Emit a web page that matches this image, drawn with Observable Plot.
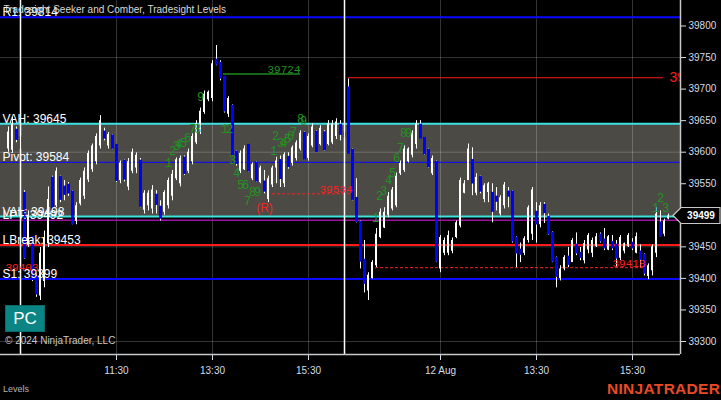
<!DOCTYPE html>
<html>
<head>
<meta charset="utf-8">
<script src="https://cdn.jsdelivr.net/npm/d3@7"></script>
<script src="https://cdn.jsdelivr.net/npm/@observablehq/plot@0.6"></script>
<style>
html, body { margin:0; padding:0; background:#000; overflow:hidden; }
#wrap { position:relative; width:721px; height:400px; background:#000; font-family:"Liberation Sans", Arial, sans-serif; }
#wrap svg { display:block; }
.ov { position:absolute; white-space:nowrap; }
#pc { left:5px; top:305px; width:40px; height:27px; background:#0b8484; color:#fff; font-size:17px; line-height:26px; text-align:center; box-sizing:border-box; border:1px solid #086a6a; }
#copy { left:5px; top:335px; font-size:10px; color:#c8c8c8; }
#lv { left:3px; top:384px; font-size:9px; color:#b5b5b5; }
#logo { left:607px; top:380px; font-size:15.5px; font-weight:bold; color:#e84a25; letter-spacing:0.3px; }
</style>
</head>
<body>
<div id="wrap"></div>
<script>
// ---------- data ----------
const firstSlot = -3; // bar slot of first bar (5-minute slots, 0 = 9:30 of day 1)
const opens = [
39605,39603,39634,39623,39534,39452,39464,39401,39372,39395,
39455,39558,39515,39559,39544,39547,39536,39490,39518,39530,
39556,39572,39585,39610,39631,39610,39625,39610,39555,39585,
39545,39570,39575,39585,39508,39515,39510,39531,39512,39505,
39515,39530,39558,39550,39590,39570,39585,39615,39633,39663,
39683,39685,39745,39740,39718,39660,39672,39599,39570,39572,
39610,39558,39582,39552,39552,39525,39548,39575,39586,39550,
39591,39582,39590,39605,39629,39590,39610,39631,39612,39630,
39612,39615,39625,39642,39630,39701,39602,39526,39488,39428,
39380,39400,39420,39465,39480,39500,39510,39515,39566,39571,
39585,39595,39612,39642,39621,39602,39566,39583,39415,39440,
39440,39443,39465,39483,39535,39555,39586,39535,39559,39525,
39536,39534,39528,39502,39515,39536,39536,39463,39444,39440,
39460,39470,39504,39485,39515,39496,39471,39431,39400,39415,
39433,39425,39452,39439,39428,39445,39440,39450,39468,39460,
39445,39456,39452,39432,39443,39450,39455,39440,39441,39436,
39403,39412,39440,39487,39470,39494];
const highs = [
39640,39655,39640,39626,39539,39507,39466,39405,39449,39475,
39545,39562,39575,39562,39555,39552,39539,39520,39559,39575,
39602,39613,39629,39658,39638,39631,39628,39612,39586,39588,
39590,39605,39599,39590,39539,39539,39547,39539,39523,39539,
39559,39571,39591,39594,39594,39605,39629,39650,39670,39697,
39697,39745,39769,39745,39720,39688,39675,39602,39602,39610,
39612,39583,39585,39578,39571,39562,39578,39592,39594,39599,
39599,39610,39618,39634,39632,39629,39645,39634,39642,39634,
39650,39650,39653,39650,39635,39716,39605,39558,39491,39460,
39409,39428,39479,39510,39512,39536,39544,39567,39586,39610,
39607,39634,39650,39650,39623,39605,39594,39586,39468,39464,
39475,39464,39491,39559,39555,39613,39607,39566,39562,39550,
39552,39550,39544,39531,39552,39544,39539,39466,39456,39466,
39515,39544,39520,39520,39520,39502,39474,39434,39420,39436,
39449,39463,39472,39449,39460,39471,39464,39471,39472,39479,
39468,39468,39460,39468,39456,39471,39463,39472,39453,39439,
39423,39453,39512,39507,39494,39502];
const lows = [
39600,39598,39615,39603,39430,39449,39395,39370,39365,39385,
39449,39503,39512,39520,39523,39530,39485,39485,39515,39525,
39552,39568,39580,39605,39618,39605,39604,39552,39550,39553,
39539,39566,39566,39512,39502,39507,39502,39502,39491,39500,
39510,39523,39555,39545,39563,39566,39580,39612,39628,39660,
39680,39680,39737,39713,39662,39655,39593,39578,39566,39571,
39568,39555,39552,39550,39534,39520,39544,39550,39544,39544,
39573,39578,39586,39602,39588,39586,39607,39600,39610,39602,
39610,39612,39620,39618,39620,39597,39523,39488,39415,39377,
39365,39399,39417,39463,39479,39496,39507,39512,39563,39568,
39583,39591,39605,39621,39595,39575,39563,39425,39409,39436,
39436,39439,39463,39480,39534,39555,39531,39531,39534,39520,
39520,39488,39507,39499,39510,39512,39456,39417,39425,39436,
39456,39460,39456,39480,39487,39468,39425,39385,39396,39412,
39417,39425,39436,39428,39423,39439,39433,39449,39456,39444,
39444,39444,39417,39428,39439,39449,39444,39439,39417,39404,
39398,39404,39433,39466,39466,39493];
const closes = [
39632,39645,39621,39607,39433,39500,39399,39376,39440,39465,
39525,39507,39570,39526,39534,39536,39487,39515,39555,39570,
39598,39610,39625,39650,39623,39628,39607,39556,39583,39558,
39585,39600,39595,39515,39535,39535,39540,39518,39496,39536,
39555,39565,39588,39590,39567,39600,39625,39645,39665,39692,
39695,39740,39740,39718,39666,39685,39596,39583,39598,39605,
39571,39580,39555,39575,39539,39558,39575,39586,39559,39596,
39578,39607,39615,39630,39590,39625,39640,39602,39638,39605,
39645,39645,39648,39629,39625,39599,39526,39491,39428,39393,
39405,39425,39470,39505,39505,39530,39540,39562,39582,39605,
39605,39630,39645,39623,39598,39578,39590,39428,39465,39460,
39468,39460,39488,39555,39550,39605,39552,39560,39539,39547,
39550,39507,39523,39528,39548,39531,39460,39441,39439,39463,
39512,39540,39487,39515,39505,39471,39428,39404,39415,39433,
39423,39460,39441,39434,39455,39468,39460,39466,39460,39449,
39466,39449,39433,39465,39455,39468,39449,39466,39431,39409,
39420,39450,39502,39468,39491,39499];

const tickSlots  = [24, 48, 72, 105, 129, 153];
const tickLabels = ["11:30", "13:30", "15:30", "12 Aug", "13:30", "15:30"];
const priceTicks = [39300, 39350, 39400, 39450, 39500, 39550, 39600, 39650, 39700, 39750, 39800];
const gridPrices = [39300, 39450, 39600, 39750];
const sessionStarts = [0, 81];

const levelNames  = ["R1", "VAH", "Pivot", "VAL", "LPT", "LBreak", "S1"];
const levelValues = [39814, 39645, 39584, 39498, 39492, 39453, 39399];

const swingPrices = [39534, 39417];
const swingFrom   = [63, 88.75];
const swingTo     = [83, 156.25];
const swingLabels = ["39534", "39418"];

const targetPrices = [39724, 39718];
const targetFrom   = [50.75, 82];
const targetTo     = [70, 160.75];
const targetLabels = ["39724", "39718"];

const noteSlots  = [61, -3.75];
const notePrices = [39511, 39418];
const noteLabels = ["(R)", "39403"];

const countSlots = [37,38,39,39.5,40.75,41.75,43,44.25,45,
                    51,52.25,53,54,55,56.25,56.75,58,59.25,
                    63.25,63.75,65,65.75,66.75,67.5,68.25,70,70.75,
                    88.75,89.75,90.75,92,93,94,95,95.75,97,
                    158.75,160,161.25];
const countPrices = [39582,39602,39609,39613,39615,39623,39636,39636,39688,
                     39637,39637,39587,39566,39547,39547,39523,39536,39536,
                     39601,39626,39614,39615,39620,39626,39631,39653,39649,
                     39496,39531,39539,39555,39566,39590,39606,39630,39630,
                     39511,39527,39511];
const countLabels = ["1","2","3","4","5","6","7","8","9",
                     "1","2","3","4","5","6","7","8","9",
                     "1","2","3","4","5","6","7","8","9",
                     "1","2","3","4","5","6","7","8","9",
                     "1","2","3"];

const title = "Tradesight Seeker and Comber, Tradesight Levels";

// ---------- build ----------
const bars = opens.map((o, i) => ({t: firstSlot + i, o, h: highs[i], l: lows[i], c: closes[i]}));
const upBars = bars.filter(d => d.c >= d.o);
const downBars = bars.filter(d => d.c < d.o);
const levels = levelNames.map((n, i) => ({name: n, value: levelValues[i]}));
const lv = Object.fromEntries(levels.map(d => [d.name, d.value]));
const swings = swingPrices.map((p, i) => ({p, a: swingFrom[i], b: swingTo[i], label: swingLabels[i]}));
const targets = targetPrices.map((p, i) => ({p, a: targetFrom[i], b: targetTo[i], label: targetLabels[i]}));
const notes = noteSlots.map((t, i) => ({t, p: notePrices[i], label: noteLabels[i]}));
const counts = countSlots.map((t, i) => ({t, p: countPrices[i], label: countLabels[i]}));

const X0 = -5, X1 = 165, Y0 = 39279.4, Y1 = 39840.4;
const levelStyle = {
  R1:     {stroke: "#0a0aff", w: 2},
  VAH:    {stroke: "#3ee0e0", w: 2},
  Pivot:  {stroke: "#1414dc", w: 1.2},
  VAL:    {stroke: "#3ee0e0", w: 2},
  LPT:    {stroke: "#a012a0", w: 1.5},
  LBreak: {stroke: "#ff1a1a", w: 2},
  S1:     {stroke: "#0a0aff", w: 2}
};

const plot = Plot.plot({
  width: 721, height: 400,
  marginLeft: 0, marginRight: 41, marginTop: 0, marginBottom: 46,
  style: {background: "#000", color: "#d4dce8", fontFamily: "Liberation Sans, Arial, sans-serif", fontSize: "10px"},
  x: {type: "linear", domain: [X0, X1], axis: "bottom", ticks: tickSlots,
      tickFormat: d => tickLabels[tickSlots.indexOf(d)], tickSize: 6, tickPadding: 6, label: null},
  y: {type: "linear", domain: [Y0, Y1], axis: "right", ticks: priceTicks,
      tickFormat: d => String(d), tickSize: 5, tickPadding: 3, label: null},
  marks: [
    // value area box
    Plot.rect([lv], {x1: () => X0, x2: () => X1, y1: d => d.VAL, y2: d => d.VAH, fill: "#4b4a44"}),
    // grid
    Plot.ruleY(gridPrices, {stroke: "#fff", strokeOpacity: 0.2}),
    Plot.ruleX(tickSlots, {stroke: "#fff", strokeOpacity: 0.2}),
    // level lines
    ...levels.map(l => Plot.ruleY([l.value], {stroke: levelStyle[l.name].stroke, strokeWidth: levelStyle[l.name].w})),
    // target lines
    Plot.ruleY(targets.slice(0, 1), {y: "p", x1: "a", x2: "b", stroke: "#1c8a1c", strokeWidth: 1.5}),
    Plot.ruleY(targets.slice(1), {y: "p", x1: "a", x2: "b", stroke: "#ff1a1a", strokeWidth: 1}),
    // swing dashed lines
    Plot.ruleY(swings, {y: "p", x1: "a", x2: "b", stroke: "#ff2020", strokeDasharray: "3,2"}),
    // candles
    Plot.ruleX(bars, {x: "t", y1: "l", y2: "h", stroke: "#fff", strokeWidth: 1}),
    Plot.ruleX(upBars, {x: "t", y1: "o", y2: "c", stroke: "#fff", strokeWidth: 2, dx: -0.5}),
    Plot.ruleX(downBars, {x: "t", y1: "o", y2: "c", stroke: "#0000ff", strokeWidth: 3, strokeLinecap: "square"}),
    // session breaks
    Plot.ruleX(sessionStarts, {stroke: "#fff", strokeWidth: 1.5}),
    // axis lines
    Plot.ruleX([X1], {stroke: "#c8c8c8", strokeWidth: 1.5}),
    Plot.ruleY([Y0], {stroke: "#c8c8c8", strokeWidth: 1.5}),
    // counters
    Plot.text(counts, {x: "t", y: "p", text: "label", fill: "#1f941f", fontSize: 12, fontFamily: "Liberation Mono, monospace"}),
    // target labels
    Plot.text(targets.slice(0, 1), {x: "b", y: "p", text: "label", textAnchor: "end", lineAnchor: "bottom", dy: -1, fill: "#1f941f", fontSize: 11, fontFamily: "Liberation Mono, monospace"}),
    Plot.text(targets.slice(1), {x: "b", y: "p", text: "label", textAnchor: "start", dx: 6, fill: "#ff1a1a", fontSize: 14, clip: true}),
    // swing labels
    Plot.text(swings, {x: "b", y: "p", text: "label", textAnchor: "end", lineAnchor: "bottom", dy: -1, fill: "#ff2020", fontSize: 11, fontFamily: "Liberation Mono, monospace"}),
    Plot.text(notes.filter(d => d.t >= 0), {x: "t", y: "p", text: "label", fill: "#ff2020", fontSize: 12, textAnchor: "middle"}),
    Plot.text(notes.filter(d => d.t < 0), {x: "t", y: "p", text: "label", fill: "#ff2020", fontSize: 11, textAnchor: "start", fontFamily: "Liberation Mono, monospace"}),
    // level labels
    Plot.text(levels, {x: () => X0, y: "value", text: d => `${d.name}: ${d.value}`, textAnchor: "start", lineAnchor: "bottom", dx: 2, dy: -1, fill: "#fff", fontSize: 12}),
    // title
    Plot.text([title], {frameAnchor: "top-left", dx: 3, dy: 5, lineAnchor: "top", fill: "#d8d8d8", fontSize: 10})
  ]
});

const wrap = document.getElementById("wrap");
wrap.appendChild(plot);

// last price marker on the price axis
const lastClose = closes[closes.length - 1];
const yy = Math.round(plot.scale("y").apply(lastClose)) + 0.5;
const xr = Math.round(plot.scale("x").apply(X1));
const g = d3.select(plot).append("g");
g.append("path")
  .attr("d", `M${xr - 7},${yy} L${xr + 1},${yy - 8} L${xr + 40},${yy - 8} L${xr + 40},${yy + 8} L${xr + 1},${yy + 8} Z`)
  .attr("fill", "#000").attr("stroke", "#c8c8c8").attr("stroke-width", 1.2);
g.append("text").attr("x", xr + 21).attr("y", yy).attr("dy", "0.35em")
  .attr("text-anchor", "middle").attr("fill", "#fff").attr("font-size", 10).attr("font-weight", "bold")
  .text(String(lastClose));

// overlays
const add = (id, txt) => { const d = document.createElement("div"); d.className = "ov"; d.id = id; d.textContent = txt; wrap.appendChild(d); };
add("pc", "PC");
add("copy", "© 2024 NinjaTrader, LLC");
add("lv", "Levels");
add("logo", "NINJATRADER");
</script>
</body>
</html>
